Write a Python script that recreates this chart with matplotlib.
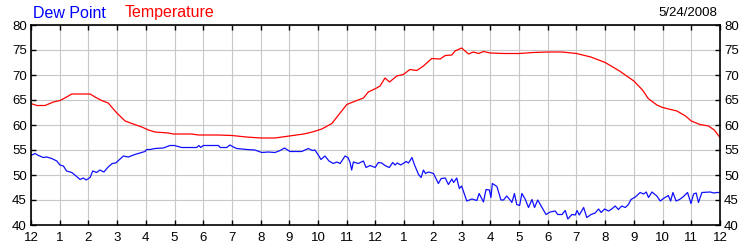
import matplotlib
matplotlib.use('Agg')
import matplotlib.pyplot as plt

# temperature (hour of day, deg F)
temp_hours = [0, 0.2, 0.49, 0.78, 1.01, 1.18, 1.42, 2.06, 2.23, 2.46, 2.69, 2.99,
              3.28, 3.51, 3.86, 4.09, 4.32, 4.78, 4.96, 5.6, 5.83, 6.5, 7.0, 7.5,
              8.0, 8.5, 9.0, 9.5, 9.8, 10.13, 10.48, 11.0, 11.35, 11.58, 11.75,
              12.04, 12.16, 12.33, 12.49, 12.74, 12.97, 13.2, 13.44, 13.67, 13.96,
              14.25, 14.43, 14.66, 14.77, 15.0, 15.24, 15.41, 15.59, 15.76, 16.0,
              16.5, 17.0, 17.5, 18.0, 18.5, 19.0, 19.5, 20.0, 20.5, 21.0, 21.3,
              21.5, 21.8, 22.0, 22.5, 22.8, 23.0, 23.3, 23.6, 23.8, 24.0]
temp_vals = [64.3, 63.9, 63.9, 64.6, 64.9, 65.4, 66.2, 66.2, 65.6, 64.9, 64.4, 62.4,
             60.8, 60.3, 59.6, 59.0, 58.6, 58.4, 58.2, 58.2, 58.0, 58.0, 57.9, 57.6,
             57.4, 57.4, 57.8, 58.2, 58.6, 59.2, 60.3, 64.1, 64.9, 65.4, 66.6,
             67.4, 67.8, 69.4, 68.6, 69.8, 70.1, 71.1, 70.9, 71.8, 73.3,
             73.2, 73.9, 74.0, 74.8, 75.4, 74.2, 74.6, 74.3, 74.7, 74.4,
             74.3, 74.3, 74.5, 74.6, 74.6, 74.3, 73.6, 72.5, 70.8, 68.8, 67.0,
             65.3, 64.0, 63.5, 62.8, 61.8, 60.8, 60.1, 59.8, 59.0, 57.5]

# dew point
dew_hours = [0, 0.14, 0.26, 0.43, 0.55, 0.72, 0.9, 1.01, 1.13, 1.24, 1.42, 1.59,
             1.71, 1.82, 1.92, 2.06, 2.15, 2.29, 2.4, 2.54, 2.69, 2.83, 2.95, 3.22,
             3.39, 3.62, 3.8, 3.97, 4.03, 4.15, 4.32, 4.61, 4.84, 5.0, 5.25, 5.77,
             5.85, 5.91, 6.0, 6.53, 6.59, 6.82, 6.93, 7.05, 7.17, 7.52, 7.8, 8.04,
             8.27, 8.5, 8.68, 8.83, 9.02, 9.43, 9.66, 9.8, 9.89, 10.03, 10.1, 10.24,
             10.38, 10.53, 10.65, 10.77, 10.94, 11.04, 11.11, 11.17, 11.23, 11.4,
             11.58, 11.67, 11.81, 11.99, 12.1, 12.22, 12.33, 12.48, 12.6, 12.68,
             12.76, 12.88, 13.07, 13.15, 13.27, 13.36, 13.5, 13.59, 13.67, 13.74,
             13.85, 14.02, 14.19, 14.29, 14.43, 14.54, 14.66, 14.72, 14.83, 14.92,
             15.0, 15.18, 15.36, 15.53, 15.61, 15.76, 15.85, 15.97, 16.02, 16.07,
             16.23, 16.37, 16.46, 16.57, 16.69, 16.75, 16.84, 16.92, 17.02, 17.1,
             17.22, 17.33, 17.45, 17.54, 17.65, 17.79, 17.94, 18.08, 18.26, 18.35,
             18.5, 18.61, 18.7, 18.84, 18.96, 19.02, 19.1, 19.25, 19.36, 19.51,
             19.65, 19.77, 19.86, 19.98, 20.12, 20.23, 20.35, 20.46, 20.58, 20.7,
             20.81, 20.9, 21.05, 21.22, 21.34, 21.43, 21.51, 21.63, 21.8, 21.92,
             22.03, 22.2, 22.28, 22.36, 22.47, 22.59, 22.71, 22.87, 22.99, 23.08,
             23.17, 23.25, 23.37, 23.66, 23.78, 23.89, 24.0]
dew_vals = [53.9, 54.3, 53.9, 53.5, 53.6, 53.3, 52.8, 52.0, 51.8, 50.8, 50.5, 49.7,
            49.1, 49.4, 49.0, 49.5, 50.8, 50.5, 51.0, 50.6, 51.6, 52.3, 52.4, 53.8,
            53.6, 54.1, 54.4, 54.7, 55.1, 55.1, 55.3, 55.4, 55.9, 55.9, 55.5, 55.5,
            55.9, 55.5, 55.9, 55.9, 55.5, 55.5, 56.0, 55.6, 55.3, 55.1, 55.0, 54.5,
            54.6, 54.5, 54.9, 55.4, 54.7, 54.7, 55.3, 54.9, 55.0, 53.8, 53.1, 53.8,
            52.8, 52.3, 52.6, 52.3, 53.8, 53.5, 52.6, 51.0, 52.6, 52.3,
            52.8, 51.5, 51.9, 51.5, 52.5, 52.4, 51.9, 51.5, 52.5, 52.0,
            52.4, 52.0, 52.7, 52.4, 53.5, 52.0, 50.1, 49.5, 51.0, 50.3,
            50.6, 50.3, 48.3, 49.3, 49.4, 48.1, 49.2, 48.5, 49.4, 47.3,
            47.8, 44.8, 45.2, 44.9, 46.3, 44.6, 47.1, 47.0, 45.5, 48.3,
            47.7, 45.0, 45.0, 45.8, 45.0, 44.5, 46.3, 44.1, 43.9, 46.3,
            45.1, 43.5, 45.1, 43.5, 45.0, 43.6, 42.1, 42.6, 42.8, 42.1,
            42.1, 42.9, 41.2, 42.1, 42.0, 42.9, 42.0, 43.5, 41.5, 42.1,
            42.4, 43.2, 42.5, 43.2, 42.8, 43.2, 43.8, 43.1, 43.8, 43.5,
            44.1, 45.1, 45.6, 46.5, 46.2, 46.6, 45.5, 46.6, 45.8, 44.8,
            45.3, 45.9, 44.8, 46.5, 44.8, 45.1, 45.6, 46.5, 44.3, 46.2,
            46.4, 44.5, 46.5, 46.6, 46.4, 46.5, 46.5]

x_ticks = list(range(25))
x_labels = ['12'] + [str(h) for h in range(1, 12)] + ['12'] + [str(h) for h in range(1, 12)] + ['12']
y_ticks = [40, 45, 50, 55, 60, 65, 70, 75, 80]

plt.rcParams['font.family'] = ['Liberation Sans', 'DejaVu Sans']

fig = plt.figure(figsize=(7.5, 2.5), dpi=100)
ax = fig.add_axes([0.0413, 0.1, 0.9187, 0.8])

ax.plot(temp_hours, temp_vals, color='#ff0000', lw=0.9)
ax.plot(dew_hours, dew_vals, color='#1010ff', lw=0.9)

ax.set_xlim(0, 24)
ax.set_ylim(40, 80)
ax.set_xticks(x_ticks)
ax.set_xticklabels(x_labels)
ax.set_yticks(y_ticks)
ax.grid(True, color='#c8c8c8', lw=0.8)
ax.set_axisbelow(True)

ax.tick_params(direction='in', length=3.5, width=1, colors='black', labelsize=9.5,
               top=True, right=True, labelright=True, pad=3)
ax.tick_params(axis='x', pad=5)
for s in ax.spines.values():
    s.set_linewidth(1.2)

fig.text(0.044, 0.948, 'Dew Point', color='#0000ff', fontsize=11.5, va='center')
fig.text(0.166, 0.948, 'Temperature', color='#ff0000', fontsize=11.5, va='center')
fig.text(0.957, 0.948, '5/24/2008', color='black', fontsize=9.5, va='center', ha='right')

fig.savefig('out.png', dpi=100)
plt.close()
